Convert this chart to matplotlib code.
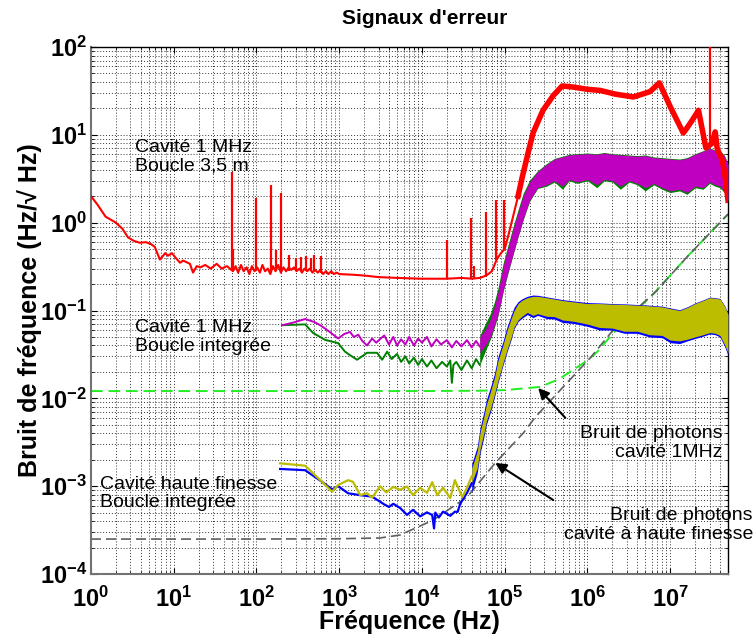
import numpy as np
import matplotlib
matplotlib.use('Agg')
import matplotlib.pyplot as plt
from matplotlib.ticker import LogLocator, FuncFormatter, NullFormatter

plt.rcParams['font.family'] = ['Liberation Sans', 'DejaVu Sans']
plt.rcParams['mathtext.fontset'] = 'custom'
plt.rcParams['mathtext.rm'] = 'Liberation Sans:bold'
plt.rcParams['mathtext.bf'] = 'Liberation Sans:bold'
plt.rcParams['mathtext.it'] = 'Liberation Sans:bold:italic'

# --- Cavité 1 MHz, boucle 3,5 m (red) ---
red_f = [1, 1.2, 1.5, 2.0, 2.4, 2.8, 3.3, 3.9, 4.6, 5.3, 5.9, 6.8, 7.9, 8.5, 9.5, 10.5,
         11.9, 13, 15.7, 17.1, 19, 21, 24, 28, 33, 38, 44, 52, 56, 60, 65, 70, 76, 82,
         88, 95, 102, 110, 118, 127, 137, 147, 158, 170, 183, 197, 212, 228, 245, 264,
         284, 305, 330, 355, 380, 410, 440, 475, 510, 550, 590, 640, 690, 740, 800, 860,
         930, 1000, 1500, 2000, 3000, 5000, 1e4, 2e4, 3e4, 4e4, 5e4, 6e4, 7e4, 8e4, 9e4,
         1.0e5, 1.1e5, 1.27e5, 1.45e5, 1.63e5, 1.9e5, 2.2e5, 2.9e5, 3.86e5, 4.95e5, 6.7e5,
         1.0e6, 1.43e6, 2.2e6, 3.6e6, 5.7e6, 7.4e6, 1.0e7, 1.44e7, 1.6e7, 1.85e7, 2.2e7,
         2.7e7, 3.2e7, 3.5e7, 3.7e7, 4.3e7, 4.7e7, 5.0e7]
red_v = [2.0, 1.6, 1.17, 1.0, 0.85, 0.68, 0.62, 0.59, 0.60, 0.57, 0.53, 0.38, 0.45, 0.42,
         0.45, 0.40, 0.35, 0.37, 0.34, 0.27, 0.32, 0.31, 0.33, 0.30, 0.34, 0.30, 0.32, 0.28,
         0.32, 0.27, 0.33, 0.28, 0.31, 0.26, 0.32, 0.28, 0.31, 0.27, 0.33, 0.28, 0.30, 0.26,
         0.32, 0.28, 0.33, 0.27, 0.31, 0.28, 0.31, 0.29, 0.31, 0.28, 0.30, 0.27, 0.30, 0.28,
         0.30, 0.27, 0.29, 0.27, 0.29, 0.26, 0.28, 0.26, 0.28, 0.26, 0.27, 0.26, 0.255, 0.25,
         0.24, 0.235, 0.23, 0.23, 0.235, 0.23, 0.235, 0.25, 0.28, 0.38, 0.45, 0.50, 0.70,
         1.2, 2.0, 3.3, 6.0, 10.5, 19, 28, 36, 35, 33, 32, 29, 27, 31, 39, 21, 10.5, 12.0,
         14.7, 19, 7.1, 8.0, 10.8, 7.0, 5.0, 3.0, 1.8]
red_spike_f = [50, 52, 100, 150, 173, 200, 250, 300, 350, 400, 450, 500, 600,
               2e4, 3.9e4, 4.3e4, 6e4, 7.9e4, 9.8e4, 3.0e7]
red_spike_lo = [0.28, 0.28, 0.28, 0.28, 0.28, 0.28, 0.28, 0.28, 0.28, 0.28, 0.28, 0.28, 0.27,
                0.23, 0.23, 0.23, 0.25, 0.38, 0.50, 7.5]
red_spike_hi = [3.8, 0.5, 1.9, 2.7, 0.49, 2.2, 0.43, 0.40, 0.41, 0.42, 0.40, 0.43, 0.42,
                0.64, 1.12, 0.32, 1.34, 1.8, 1.8, 100]

# --- Cavité 1 MHz, boucle intégrée (magenta / green) ---
mag_f = [204, 280, 387, 500, 590, 750, 970, 1150, 1350, 1500, 1700, 1900, 2170, 2500,
         2800, 3100, 3500, 4000, 4500, 5000, 5600, 6300, 7000, 8000, 9000, 1e4, 1.15e4,
         1.3e4, 1.5e4, 1.7e4, 2e4, 2.3e4, 2.6e4, 3e4, 3.5e4, 4e4, 4.5e4, 5e4]
mag_v = [0.068, 0.073, 0.080, 0.074, 0.068, 0.058, 0.048, 0.054, 0.057, 0.050, 0.053,
         0.045, 0.040, 0.048, 0.043, 0.047, 0.052, 0.041, 0.050, 0.040, 0.047, 0.041,
         0.050, 0.040, 0.048, 0.043, 0.050, 0.039, 0.047, 0.041, 0.046, 0.038, 0.045,
         0.039, 0.046, 0.038, 0.045, 0.039]
grn_f = [204, 387, 483, 676, 970, 1175, 1350, 1645, 2170, 2870, 3300, 3800, 4300, 5000,
         5600, 6300, 7000, 8000, 9000, 1e4, 1.15e4, 1.3e4, 1.5e4, 1.75e4, 2e4, 2.2e4,
         2.3e4, 2.4e4, 2.6e4, 3e4, 3.5e4, 4e4, 4.5e4, 5e4]
grn_v = [0.068, 0.0695, 0.0555, 0.0463, 0.0425, 0.034, 0.031, 0.0275, 0.033, 0.033,
         0.0275, 0.034, 0.028, 0.032, 0.026, 0.030, 0.025, 0.029, 0.024, 0.028, 0.023,
         0.027, 0.022, 0.026, 0.023, 0.027, 0.015, 0.024, 0.026, 0.021, 0.027, 0.022,
         0.028, 0.024]

band1_f = [5.0e4, 5.8e4, 6.7e4, 7.5e4, 8.3e4, 9.6e4, 1.1e5, 1.27e5, 1.45e5, 1.67e5,
           2.0e5, 2.5e5, 3.2e5, 4.0e5, 5.0e5, 6.0e5, 7.5e5, 1.0e6, 1.3e6, 1.6e6, 2.0e6,
           2.5e6, 3.2e6, 4.0e6, 5.0e6, 6.3e6, 8.0e6, 1.0e7, 1.3e7, 1.6e7, 2.0e7, 2.5e7,
           3.0e7, 3.5e7, 4.0e7, 4.5e7, 5.0e7]
mag_lo = [0.033, 0.040, 0.050, 0.068, 0.09, 0.17, 0.28, 0.45, 0.70, 1.1, 1.8, 2.5, 2.7,
          3.0, 2.6, 3.1, 2.9, 3.1, 2.7, 3.1, 3.0, 2.6, 3.0, 2.8, 2.5, 2.8, 2.5, 2.3, 2.4,
          2.2, 2.6, 2.5, 2.9, 2.7, 2.6, 2.3, 1.8]
mag_hi = [0.050, 0.060, 0.080, 0.11, 0.16, 0.32, 0.52, 0.85, 1.3, 2.0, 2.9, 3.8, 4.6,
          5.3, 5.6, 5.9, 6.0, 6.1, 6.0, 6.2, 6.0, 5.9, 5.8, 5.7, 5.8, 5.5, 5.4, 5.3, 5.2,
          5.4, 6.0, 6.5, 7.0, 6.6, 6.5, 5.8, 4.6]
grn_lo = [0.024, 0.034, 0.047, 0.064, 0.087, 0.165, 0.27, 0.44, 0.69, 1.07, 1.75, 2.45,
          2.6, 2.9, 2.4, 3.0, 2.8, 3.0, 2.5, 3.0, 2.9, 2.4, 2.9, 2.7, 2.3, 2.7, 2.4, 2.2,
          2.3, 2.1, 2.5, 2.4, 2.8, 2.6, 2.5, 2.2, 1.75]
grn_hi = [0.052, 0.070, 0.092, 0.125, 0.18, 0.35, 0.56, 0.92, 1.4, 2.15, 3.05, 3.9, 4.7,
          5.4, 5.7, 6.0, 6.1, 6.2, 6.1, 6.3, 6.1, 6.0, 5.9, 5.8, 5.9, 5.6, 5.5, 5.4, 5.3,
          5.5, 6.1, 6.6, 7.1, 6.7, 6.6, 5.9, 4.7]

# --- Cavité haute finesse, boucle intégrée (olive / blue) ---
yel_f = [193, 387, 621, 820, 970, 1280, 1470, 1790, 2170, 2500, 3120, 3700, 4500, 5450,
         6600, 7800, 9500, 1.15e4, 1.33e4, 1.53e4, 1.8e4, 2.2e4, 2.5e4, 3.07e4, 3.5e4, 4.0e4]
yel_v = [0.00182, 0.00171, 0.00112, 0.000865, 0.00103, 0.00117, 0.00112, 0.00079,
         0.00083, 0.00074, 0.00100, 0.00085, 0.00098, 0.00091, 0.00099, 0.00079, 0.00096,
         0.00084, 0.00111, 0.00079, 0.00096, 0.00073, 0.00117, 0.00075, 0.00096, 0.00130]
blu_f = [193, 387, 621, 820, 970, 1280, 1790, 2500, 3120, 3500, 4000, 4500, 5450, 6600,
         7800, 9500, 1.15e4, 1.33e4, 1.4e4, 1.45e4, 1.6e4, 1.8e4, 2.2e4, 2.5e4, 2.7e4,
         2.9e4, 3.5e4, 4.0e4]
blu_v = [0.00157, 0.00152, 0.00112, 0.00092, 0.00100, 0.00083, 0.00079, 0.00076,
         0.000665, 0.00062, 0.00058, 0.00063, 0.000564, 0.000471, 0.000538, 0.000453,
         0.000503, 0.00047, 0.00033, 0.00050, 0.00044, 0.000513, 0.00046, 0.000512,
         0.00051, 0.00063, 0.00084, 0.00108]

band2_f = [4.0e4, 4.65e4, 5.06e4, 5.6e4, 6.0e4, 6.7e4, 7.5e4, 8.3e4, 9.5e4, 1.07e5, 1.2e5,
           1.3e5, 1.45e5, 1.6e5, 1.87e5, 2.2e5, 2.5e5, 3.2e5, 4.0e5, 5.0e5, 7.0e5, 1.0e6,
           1.4e6, 2.0e6, 2.8e6, 4.0e6, 5.6e6, 8.0e6, 1.0e7, 1.3e7, 1.6e7, 2.0e7, 2.5e7,
           3.0e7, 3.5e7, 4.0e7, 4.6e7, 5.0e7]
yel_lo = [0.0011, 0.0016, 0.0027, 0.0040, 0.0055, 0.0075, 0.011, 0.016, 0.025, 0.036,
          0.050, 0.065, 0.078, 0.085, 0.095, 0.088, 0.092, 0.086, 0.085, 0.078, 0.075,
          0.070, 0.064, 0.063, 0.058, 0.058, 0.053, 0.052, 0.046, 0.045, 0.047, 0.050,
          0.053, 0.056, 0.055, 0.052, 0.040, 0.033]
yel_hi = [0.0016, 0.0025, 0.0042, 0.0062, 0.0085, 0.0118, 0.017, 0.027, 0.040, 0.060,
          0.082, 0.100, 0.120, 0.130, 0.140, 0.145, 0.145, 0.140, 0.135, 0.130, 0.125,
          0.120, 0.120, 0.118, 0.117, 0.115, 0.113, 0.110, 0.105, 0.100, 0.108, 0.120,
          0.130, 0.140, 0.138, 0.135, 0.110, 0.090]
blu_lo = [0.00085, 0.0014, 0.0024, 0.0036, 0.0050, 0.0069, 0.0102, 0.015, 0.0235, 0.034,
          0.047, 0.062, 0.075, 0.081, 0.090, 0.083, 0.088, 0.081, 0.080, 0.073, 0.071,
          0.066, 0.060, 0.060, 0.055, 0.055, 0.050, 0.049, 0.043, 0.042, 0.045, 0.048,
          0.051, 0.054, 0.053, 0.050, 0.038, 0.031]
blu_hi = [0.0018, 0.0028, 0.0047, 0.0070, 0.0096, 0.0132, 0.019, 0.030, 0.044, 0.066,
          0.089, 0.109, 0.126, 0.135, 0.145, 0.150, 0.149, 0.143, 0.138, 0.133, 0.128,
          0.123, 0.122, 0.120, 0.119, 0.117, 0.115, 0.112, 0.107, 0.102, 0.110, 0.122,
          0.132, 0.142, 0.140, 0.137, 0.112, 0.092]

# --- Bruit de photons (dashed) ---
shot1_f = [1, 1e3, 1e4, 5e4, 1e5, 2.7e5, 4.5e5, 6.7e5, 1.0e6, 1.32e6, 1.7e6, 2.3e6,
           6.6e6, 1.61e7, 5.0e7]
shot1_v = [0.0121, 0.0121, 0.0121, 0.0122, 0.0124, 0.0135, 0.0165, 0.021, 0.027, 0.034,
           0.045, 0.062, 0.162, 0.41, 1.25]
shot2_f = [1, 1e2, 1e3, 3.1e3, 5.45e3, 1.36e4, 3.5e4, 7.7e4, 1.67e5, 2.34e5, 5.1e5,
           1.08e6, 2.05e6, 6.6e6, 1.61e7, 5.0e7]
shot2_v = [2.5e-4, 2.5e-4, 2.52e-4, 2.57e-4, 2.78e-4, 4.1e-4, 7.5e-4, 1.84e-3, 4.0e-3,
           6.1e-3, 0.0135, 0.0288, 0.060, 0.162, 0.41, 1.25]

fig = plt.figure(figsize=(7.56, 6.44), dpi=100)
ax = fig.add_axes([91 / 756, 70 / 644, 637 / 756, 527 / 644])
ax.set_xscale('log')
ax.set_yscale('log')

ax.plot(shot1_f, shot1_v, color='#22ee22', lw=1.4, dashes=(6, 3), zorder=2)
ax.plot(shot2_f, shot2_v, color='#606060', lw=1.2, dashes=(6, 3), zorder=2.1)

ax.plot(grn_f, grn_v, color='#008000', lw=1.4, zorder=3)
ax.fill_between(band1_f, grn_lo, grn_hi, color='#008000', lw=0, zorder=3)
ax.plot(mag_f, mag_v, color='#c000c0', lw=1.4, zorder=3.1)
ax.fill_between(band1_f, mag_lo, mag_hi, color='#c000c0', lw=0, zorder=3.1)

ax.plot(blu_f, blu_v, color='#0000ff', lw=1.6, zorder=3.2)
ax.fill_between(band2_f, blu_lo, blu_hi, color='#0000ff', lw=0, zorder=3.2)
ax.plot(yel_f, yel_v, color='#bcbc00', lw=1.6, zorder=3.3)
ax.fill_between(band2_f, yel_lo, yel_hi, color='#bcbc00', lw=0, zorder=3.3)

# red trace: thin at low frequency, thick noisy plateau above ~150 kHz
red_f = np.array(red_f)
red_v = np.array(red_v)
ax.plot(red_f, red_v, color='#ff0000', lw=1.5, zorder=4)
hf = red_f >= 1.45e5
ax.plot(red_f[hf], red_v[hf], color='#ff0000', lw=4, solid_joinstyle='round', zorder=4)
ax.vlines(red_spike_f, red_spike_lo, red_spike_hi, color='#ff0000', lw=1.6, zorder=4)

ax.set_xlim(1, 5e7)
ax.set_ylim(1e-4, 1e2)

decade = FuncFormatter(lambda x, pos: r'$\mathbf{10^{%d}}$' % round(np.log10(x)))
for axis in (ax.xaxis, ax.yaxis):
    axis.set_major_locator(LogLocator(base=10, numticks=20))
    axis.set_minor_locator(LogLocator(base=10, subs=np.arange(2, 10), numticks=200))
    axis.set_major_formatter(decade)
    axis.set_minor_formatter(NullFormatter())

ax.grid(True, which='both', linestyle=(0, (1, 2)), color='0.2', lw=0.7)
ax.set_axisbelow(True)
ax.tick_params(which='both', direction='in', top=True, right=True, labelsize=17)
ax.tick_params(which='major', length=4)
ax.tick_params(which='minor', length=2)
ax.tick_params(axis='x', pad=9)
ax.tick_params(axis='y', pad=3)
for side in ('left', 'bottom'):
    ax.spines[side].set_color('0.45')
    ax.spines[side].set_linewidth(1.5)
for side in ('top', 'right'):
    ax.spines[side].set_linewidth(1.0)

ax.set_xlabel('Fréquence (Hz)', fontsize=18, fontweight='bold', labelpad=-1)
ax.set_ylabel('Bruit de fréquence (Hz/√ Hz)', fontsize=18, fontweight='bold', labelpad=-2)
fig.text(425 / 756, 1 - 18 / 644, "Signaux d'erreur", fontsize=15, fontweight='bold',
         ha='center', va='center')

note = dict(fontsize=14, linespacing=1.1, zorder=6)
ax.text(3.4, 5.6, 'Cavité 1 MHz\nBoucle 3,5 m', ha='left', va='center', **note)
ax.text(3.4, 0.050, 'Cavité 1 MHz\nBoucle integrée', ha='left', va='center', **note)
ax.text(1.28, 8.3e-4, 'Cavité haute finesse\nBoucle integrée', ha='left', va='center', **note)
ax.text(4.3e7, 3.1e-3, 'Bruit de photons\ncavité 1MHz', ha='right', va='center',
        multialignment='right', **note)
ax.text(1.0e8, 3.6e-4, 'Bruit de photons\ncavité à haute finesse', ha='right', va='center',
        multialignment='right', clip_on=False, **note)

arrow = dict(arrowstyle='-|>', color='k', lw=1.5, mutation_scale=16, shrinkA=0, shrinkB=0)
ax.annotate('', xy=(2.54e5, 0.0131), xytext=(5.4e5, 0.006), arrowprops=arrow, zorder=6)
ax.annotate('', xy=(7.7e4, 1.84e-3), xytext=(3.86e5, 6.95e-4), arrowprops=arrow, zorder=6)

fig.savefig('out.png', dpi=100)
